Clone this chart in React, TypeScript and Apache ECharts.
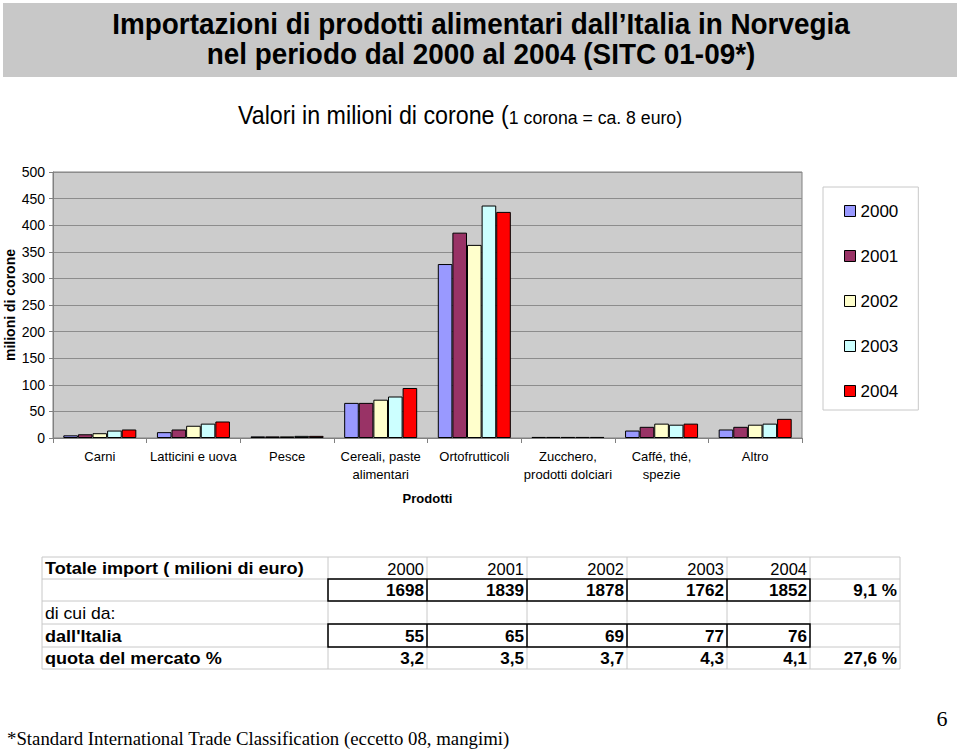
import React, { useEffect, useRef } from "react";
import * as echarts from "echarts";

const categories = [
  "Carni",
  "Latticini e uova",
  "Pesce",
  "Cereali, paste\nalimentari",
  "Ortofrutticoli",
  "Zucchero,\nprodotti dolciari",
  "Caffé, thé,\nspezie",
  "Altro",
];
const years = ["2000", "2001", "2002", "2003", "2004"];
const values2000 = [5, 11, 3, 66, 327, 2, 14, 16];
const values2001 = [7, 16, 3, 66, 386, 2, 21, 21];
const values2002 = [9, 23, 3, 72, 363, 2, 27, 25];
const values2003 = [14, 27, 4, 78, 437, 2, 25, 27];
const values2004 = [16, 31, 4, 94, 425, 2, 27, 36];
const seriesValues = [values2000, values2001, values2002, values2003, values2004];
const yearColors = ["#9999FF", "#993366", "#FFFFCC", "#CCFFFF", "#FF0000"];

const tableYears = ["2000", "2001", "2002", "2003", "2004"];
const totalImport = ["1698", "1839", "1878", "1762", "1852"];
const totalGrowth = "9,1 %";
const fromItaly = ["55", "65", "69", "77", "76"];
const marketShare = ["3,2", "3,5", "3,7", "4,3", "4,1"];
const shareGrowth = "27,6 %";

const titleLine1 = "Importazioni di prodotti alimentari dall’Italia in Norvegia";
const titleLine2 = "nel periodo dal 2000 al 2004 (SITC 01-09*)";
const yAxisName = "milioni di corone";
const footnote = "*Standard International Trade Classification (eccetto 08, mangimi)";

const SANS = "Liberation Sans, Arial, sans-serif";

function buildTable(): any[] {
  const colX = [42, 328, 427, 527, 627, 727, 810, 900];
  const rowY = [557, 579, 601, 624, 647, 669];
  const els: any[] = [];
  const gray = "#C8C8C8";
  rowY.forEach((y) =>
    els.push({ type: "line", shape: { x1: colX[0], y1: y, x2: colX[7], y2: y }, style: { stroke: gray, lineWidth: 1 } })
  );
  [0, 1, 2, 3, 4, 5, 6, 7].forEach((i) =>
    els.push({ type: "line", shape: { x1: colX[i], y1: rowY[0], x2: colX[i], y2: rowY[5] }, style: { stroke: gray, lineWidth: 1 } })
  );
  [1, 3].forEach((r) => {
    els.push({
      type: "rect",
      shape: { x: colX[1], y: rowY[r], width: colX[6] - colX[1], height: rowY[r + 1] - rowY[r] },
      style: { fill: "none", stroke: "#000", lineWidth: 1.5 },
    });
    for (let i = 2; i < 6; i++) {
      els.push({ type: "line", shape: { x1: colX[i], y1: rowY[r], x2: colX[i], y2: rowY[r + 1] }, style: { stroke: "#000", lineWidth: 1.5 } });
    }
  });
  const txt = (x: number, y: number, text: string, bold: boolean, align: string, sx: number) => ({
    type: "text",
    x,
    y,
    scaleX: sx,
    style: { text, fill: "#000", font: `${bold ? "bold " : ""}16px ${SANS}`, align, verticalAlign: "middle" },
  });
  const cy = (r: number) => (rowY[r] + rowY[r + 1]) / 2 + 1;
  els.push(txt(45, cy(0), "Totale import ( milioni di euro)", true, "left", 1.13));
  els.push(txt(45, cy(2), "di cui da:", false, "left", 1.1));
  els.push(txt(45, cy(3), "dall'Italia", true, "left", 1.13));
  els.push(txt(45, cy(4), "quota del mercato %", true, "left", 1.13));
  for (let i = 0; i < 5; i++) {
    const xr = colX[i + 2] - 3;
    els.push(txt(xr, cy(0), tableYears[i], false, "right", 1.03));
    els.push(txt(xr, cy(1), totalImport[i], true, "right", 1.07));
    els.push(txt(xr, cy(3), fromItaly[i], true, "right", 1.07));
    els.push(txt(xr, cy(4), marketShare[i], true, "right", 1.07));
  }
  els.push(txt(colX[7] - 3, cy(1), totalGrowth, true, "right", 1.07));
  els.push(txt(colX[7] - 3, cy(4), shareGrowth, true, "right", 1.07));
  return els;
}

export default function App() {
  const ref = useRef<HTMLDivElement>(null);
  useEffect(() => {
    document.body.style.margin = "0";
    const chart = echarts.init(ref.current!, null, { renderer: "svg" });
    const option: any = {
      animation: false,
      backgroundColor: "#FFFFFF",
      textStyle: { fontFamily: SANS },
      grid: {
        left: 53,
        top: 172,
        right: 158,
        bottom: 312,
        containLabel: false,
        outerBoundsMode: "none",
        show: true,
        backgroundColor: "#CCCCCC",
        borderColor: "#808080",
        borderWidth: 1,
      },
      legend: {
        orient: "vertical",
        left: 823,
        top: 187,
        data: years,
        itemWidth: 11,
        itemHeight: 11,
        itemGap: 25,
        padding: [14, 20, 9, 21],
        backgroundColor: "#FFFFFF",
        borderColor: "#C8C8C8",
        borderWidth: 1,
        borderRadius: 0,
        icon: "rect",
        itemStyle: { borderColor: "#000", borderWidth: 1 },
        textStyle: { fontSize: 17, lineHeight: 20, color: "#000" },
      },
      xAxis: {
        type: "category",
        data: categories,
        name: "Prodotti",
        nameLocation: "middle",
        nameGap: 54,
        nameMoveOverlap: false,
        nameTextStyle: { fontWeight: "bold", fontSize: 13, color: "#000" },
        axisLine: { lineStyle: { color: "#808080" } },
        axisTick: { show: true, length: 5, lineStyle: { color: "#808080" } },
        axisLabel: { fontSize: 13, lineHeight: 18, color: "#000", margin: 9, interval: 0 },
      },
      yAxis: {
        type: "value",
        min: 0,
        max: 500,
        interval: 50,
        axisLine: { show: true, lineStyle: { color: "#808080" } },
        axisTick: { show: true, length: 4, lineStyle: { color: "#808080" } },
        axisLabel: { fontSize: 14, color: "#000", margin: 8 },
        splitLine: { show: true, lineStyle: { color: "#8C8C8C", width: 1 } },
      },
      series: years.map((y, i) => ({
        name: y,
        type: "bar",
        data: seriesValues[i],
        barGap: "0%",
        barCategoryGap: "22%",
        itemStyle: { color: yearColors[i], borderColor: "#000", borderWidth: 1 },
      })),
      graphic: [
        { type: "rect", shape: { x: 3, y: 3, width: 954, height: 74 }, style: { fill: "#C8C8C8" }, z: -1 },
        {
          type: "text",
          x: 481,
          y: 24,
          scaleX: 0.93,
          style: { text: titleLine1, font: `bold 30px ${SANS}`, fill: "#000", align: "center", verticalAlign: "middle" },
        },
        {
          type: "text",
          x: 481,
          y: 54,
          scaleX: 0.93,
          style: { text: titleLine2, font: `bold 30px ${SANS}`, fill: "#000", align: "center", verticalAlign: "middle" },
        },
        {
          type: "text",
          x: 460,
          y: 115,
          scaleX: 0.93,
          style: {
            text: "{a|Valori in milioni di corone (}{b|1 corona = ca. 8 euro)}",
            align: "center",
            verticalAlign: "middle",
            rich: {
              a: { fontFamily: SANS, fontSize: 25, color: "#000" },
              b: { fontFamily: SANS, fontSize: 19, color: "#000", padding: [4, 0, 0, 0] },
            },
          },
        },
        {
          type: "text",
          x: 10,
          y: 305,
          rotation: Math.PI / 2,
          style: { text: yAxisName, font: `bold 14px ${SANS}`, fill: "#000", align: "center", verticalAlign: "middle" },
        },
        ...buildTable(),
        {
          type: "text",
          x: 7,
          y: 738,
          style: { text: footnote, font: "18.8px Liberation Serif, Times New Roman, serif", fill: "#000", align: "left", verticalAlign: "middle" },
        },
        {
          type: "text",
          x: 942,
          y: 718,
          style: { text: "6", font: "22px Liberation Serif, Times New Roman, serif", fill: "#000", align: "center", verticalAlign: "middle" },
        },
      ],
    };
    chart.setOption(option);
    return () => chart.dispose();
  }, []);
  return <div ref={ref} style={{ width: 960, height: 750 }} />;
}
